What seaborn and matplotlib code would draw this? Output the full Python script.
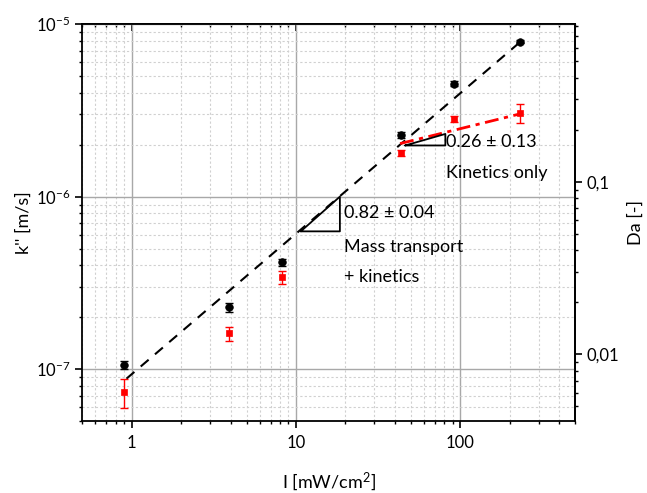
import numpy as np
import pandas as pd
import matplotlib
matplotlib.use("Agg")
import matplotlib.pyplot as plt
import matplotlib.ticker as mticker
import seaborn as sns

# данные
intensity = [0.9, 3.9, 8.2, 43.5, 92.0, 232.0]
k_total = [1.06e-7, 2.28e-7, 4.17e-7, 2.28e-6, 4.52e-6, 7.9e-6]
k_total_err = [0.055e-7, 0.13e-7, 0.2e-7, 0.1e-6, 0.15e-6, 0.15e-6]
k_kin = [7.36e-8, 1.61e-7, 3.41e-7, 1.79e-6, 2.82e-6, 3.06e-6]
k_kin_err = [1.45e-8, 0.15e-7, 0.3e-7, 0.07e-6, 0.1e-6, 0.38e-6]

fit_mt_x = [0.93, 232.0]
fit_mt_y = [8.8e-8, 7.9e-6]
fit_kin_x = [43.0, 225.0]
fit_kin_y = [2.03e-6, 3.0e-6]

tri_mt_x = [10.7, 18.5, 18.5, 10.7]
tri_mt_y = [6.29e-7, 1.0e-6, 6.29e-7, 6.29e-7]
tri_kin_x = [46.2, 81.1, 81.1, 46.2]
tri_kin_y = [1.98e-6, 2.31e-6, 1.98e-6, 1.98e-6]

da_factor = 8.2e4
da_ticks = [0.01, 0.1]
da_labels = ["0,01", "0,1"]

x_ticks = [1, 10, 100]
x_labels = ["1", "10", "100"]

sns.set_theme(style="white")
plt.rcParams['font.family'] = ['Lato', 'DejaVu Sans']
plt.rcParams['mathtext.default'] = 'regular'
plt.rcParams['axes.edgecolor'] = 'black'
plt.rcParams['axes.linewidth'] = 1.3
plt.rcParams['text.color'] = 'black'
plt.rcParams['axes.labelcolor'] = 'black'
plt.rcParams['xtick.color'] = 'black'
plt.rcParams['ytick.color'] = 'black'

df_tot = pd.DataFrame({'I': intensity, 'k': k_total})
df_kin = pd.DataFrame({'I': intensity, 'k': k_kin})

fig, ax = plt.subplots(figsize=(6.47, 4.93), dpi=100)
fig.subplots_adjust(left=0.127, right=0.889, top=0.951, bottom=0.146)

ax.set_xscale('log')
ax.set_yscale('log')
ax.set_xlim(0.5, 500)
ax.set_ylim(5e-8, 1e-5)

# сетка
ax.grid(which='major', color='#a8a8a8', lw=1.0, ls='-')
ax.grid(which='minor', color='#d0d0d0', lw=0.8, ls=(0, (2, 2)))
ax.set_axisbelow(True)

# линии аппроксимации
sns.lineplot(x=fit_mt_x, y=fit_mt_y, ax=ax, color='black', lw=1.5,
             zorder=3).lines[-1].set_dashes((5, 4))
ax.plot(fit_kin_x, fit_kin_y, color='red', lw=2, ls=(0, (5, 2, 1.5, 2)), zorder=3)

# точки с ошибками
ax.errorbar(intensity, k_total, yerr=k_total_err, fmt='none', ecolor='black',
            elinewidth=1, capsize=3, zorder=4)
ax.errorbar(intensity, k_kin, yerr=k_kin_err, fmt='none', ecolor='red',
            elinewidth=1, capsize=3, zorder=4)
sns.scatterplot(data=df_tot, x='I', y='k', ax=ax, color='black', marker='o',
                s=30, edgecolor='black', linewidth=0.5, zorder=5)
sns.scatterplot(data=df_kin, x='I', y='k', ax=ax, color='red', marker='s',
                s=22, edgecolor='red', linewidth=0.5, zorder=5)

# треугольники наклона
ax.plot(tri_mt_x, tri_mt_y, color='black', lw=1.3, zorder=4)
ax.plot(tri_kin_x, tri_kin_y, color='black', lw=1.3, zorder=4)

ax.text(19.5, 8.0e-7, "0.82 ± 0.04", fontsize=13, va='center', ha='left')
ax.text(19.5, 5.1e-7, "Mass transport", fontsize=13, va='center', ha='left')
ax.text(19.5, 3.4e-7, "+ kinetics", fontsize=13, va='center', ha='left')
ax.text(82, 2.08e-6, "0.26 ± 0.13", fontsize=13, va='center', ha='left')
ax.text(82, 1.38e-6, "Kinetics only", fontsize=13, va='center', ha='left')

# оси и подписи
ax.xaxis.set_major_locator(mticker.FixedLocator(x_ticks))
ax.xaxis.set_major_formatter(mticker.FixedFormatter(x_labels))
ax.xaxis.set_minor_locator(mticker.LogLocator(base=10, subs=np.arange(2, 10)))
ax.xaxis.set_minor_formatter(mticker.NullFormatter())
ax.yaxis.set_minor_locator(mticker.LogLocator(base=10, subs=np.arange(2, 10)))
ax.yaxis.set_minor_formatter(mticker.NullFormatter())

ax.tick_params(axis='both', which='major', labelsize=12, length=5, width=1.2,
               color='black')
ax.tick_params(axis='both', which='minor', length=2.5, width=1.0, color='black')
ax.tick_params(axis='x', which='both', top=False, bottom=True, direction='out')
ax.tick_params(axis='x', which='major', pad=5)
ax.tick_params(axis='y', which='both', left=True, right=False, direction='out')

# верхние засечки внутрь
top = ax.secondary_xaxis('top')
top.xaxis.set_major_locator(mticker.FixedLocator(x_ticks))
top.xaxis.set_minor_locator(mticker.LogLocator(base=10, subs=np.arange(2, 10)))
top.xaxis.set_major_formatter(mticker.NullFormatter())
top.xaxis.set_minor_formatter(mticker.NullFormatter())
top.tick_params(which='both', direction='in', color='black')
top.tick_params(which='major', length=5, width=1.2)
top.tick_params(which='minor', length=2.5, width=1.0)

sec = ax.secondary_yaxis('right', functions=(lambda k: k * da_factor,
                                             lambda d: d / da_factor))
sec.set_yticks(da_ticks, labels=da_labels)
sec.yaxis.set_minor_locator(mticker.LogLocator(base=10, subs=np.arange(2, 10)))
sec.yaxis.set_minor_formatter(mticker.NullFormatter())
sec.tick_params(which='major', labelsize=12, length=5, width=1.2, color='black')
sec.tick_params(which='minor', length=2.5, width=1.0, color='black')
sec.set_ylabel("Da [-]", fontsize=13, labelpad=6)

ax.set_xlabel("I [mW/cm$^2$]", fontsize=13, labelpad=14)
ax.set_ylabel("k'' [m/s]", fontsize=13, labelpad=3)

fig.savefig("out.png", dpi=100)
